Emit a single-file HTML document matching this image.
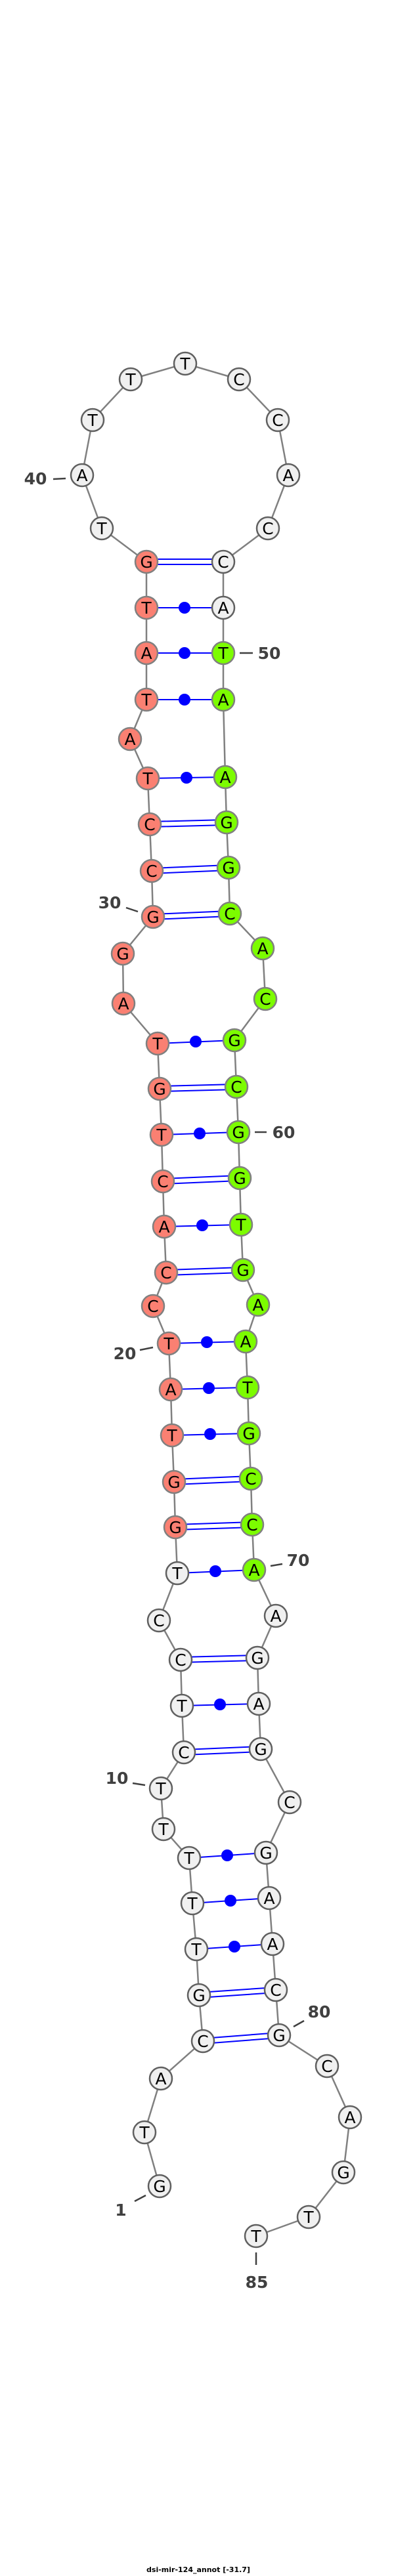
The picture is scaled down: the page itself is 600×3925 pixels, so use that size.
<!DOCTYPE html>
<html><head><meta charset="utf-8"><style>html,body{margin:0;padding:0;background:#fff}svg{display:block}</style></head><body>
<svg width="600" height="3925" viewBox="0 0 600 3925" xmlns="http://www.w3.org/2000/svg">
<polyline fill="none" stroke="#808080" stroke-width="2.5" points="243,3331 220,3249 245,3167 309,3110 303,3040 299,2970 293,2900 288,2831 249,2787 245,2725 280,2670 277,2599 275,2529 242,2469 270,2397 267,2327 265,2258 262,2187 260,2117 257,2047 233,1990 253,1939 250,1869 248,1800 246,1729 243,1659 240,1590 188,1529 187,1453 233,1397 231,1327 228,1256 225,1186 198,1126 223,1066 223,995 223,926 223,856 155,805 125,724 141,640 199,578 282,554 364,578 423,640 439,724 408,805 340,856 340,926 340,995 340,1066 343,1184 345,1253 348,1322 350,1392 400,1445 404,1522 357,1585 360,1656 363,1725 365,1795 367,1866 370,1935 393,1988 374,2044 377,2114 379,2184 382,2253 384,2323 387,2392 420,2462 392,2526 394,2596 397,2665 441,2746 405,2823 410,2892 415,2962 420,3032 425,3101 498,3148 533,3226 523,3310 470,3378 390,3407"/>
<g stroke="#0000ff" stroke-width="2" fill="none">
<path d="M309,3106 L425,3097 M309,3114 L425,3105"/>
<path d="M303,3036 L420,3028 M303,3044 L420,3036"/>
<path d="M280,2666 L397,2661 M280,2674 L397,2669"/>
<path d="M275,2525 L392,2522 M275,2533 L392,2530"/>
<path d="M267,2323 L384,2319 M267,2331 L384,2327"/>
<path d="M265,2254 L382,2249 M265,2262 L382,2257"/>
<path d="M253,1935 L370,1931 M253,1943 L370,1939"/>
<path d="M248,1796 L365,1791 M248,1804 L365,1799"/>
<path d="M243,1655 L360,1652 M243,1663 L360,1660"/>
<path d="M233,1393 L350,1388 M233,1401 L350,1396"/>
<path d="M231,1323 L348,1318 M231,1331 L348,1326"/>
<path d="M228,1252 L345,1249 M228,1260 L345,1257"/>
<path d="M223,852 L340,852 M223,860 L340,860"/>
<path d="M299,2970 L415,2962 M293,2900 L410,2892 M288,2831 L405,2823 M277,2599 L394,2596 M270,2397 L387,2392 M262,2187 L379,2184 M260,2117 L377,2114 M257,2047 L374,2044 M250,1869 L367,1866 M246,1729 L363,1725 M240,1590 L357,1585 M225,1186 L343,1184 M223,1066 L340,1066 M223,995 L340,995 M223,926 L340,926"/>
</g>
<g fill="#0000ff">
<circle cx="357" cy="2966" r="9"/><circle cx="351" cy="2896" r="9"/><circle cx="346" cy="2827" r="9"/><circle cx="335" cy="2597" r="9"/><circle cx="328" cy="2394" r="9"/><circle cx="320" cy="2185" r="9"/><circle cx="318" cy="2115" r="9"/><circle cx="315" cy="2045" r="9"/><circle cx="308" cy="1867" r="9"/><circle cx="304" cy="1727" r="9"/><circle cx="298" cy="1587" r="9"/><circle cx="284" cy="1185" r="9"/><circle cx="281" cy="1066" r="9"/><circle cx="281" cy="995" r="9"/><circle cx="281" cy="926" r="9"/>
</g>
<g stroke-width="2.5">
<g fill="#f0f0f0" stroke="#606060">
<circle cx="243" cy="3331" r="17"/><circle cx="220" cy="3249" r="17"/><circle cx="245" cy="3167" r="17"/><circle cx="309" cy="3110" r="17"/><circle cx="303" cy="3040" r="17"/><circle cx="299" cy="2970" r="17"/><circle cx="293" cy="2900" r="17"/><circle cx="288" cy="2831" r="17"/><circle cx="249" cy="2787" r="17"/><circle cx="245" cy="2725" r="17"/><circle cx="280" cy="2670" r="17"/><circle cx="277" cy="2599" r="17"/><circle cx="275" cy="2529" r="17"/><circle cx="242" cy="2469" r="17"/><circle cx="270" cy="2397" r="17"/>
<circle cx="155" cy="805" r="17"/><circle cx="125" cy="724" r="17"/><circle cx="141" cy="640" r="17"/><circle cx="199" cy="578" r="17"/><circle cx="282" cy="554" r="17"/><circle cx="364" cy="578" r="17"/><circle cx="423" cy="640" r="17"/><circle cx="439" cy="724" r="17"/><circle cx="408" cy="805" r="17"/><circle cx="340" cy="856" r="17"/><circle cx="340" cy="926" r="17"/>
<circle cx="420" cy="2462" r="17"/><circle cx="392" cy="2526" r="17"/><circle cx="394" cy="2596" r="17"/><circle cx="397" cy="2665" r="17"/><circle cx="441" cy="2746" r="17"/><circle cx="405" cy="2823" r="17"/><circle cx="410" cy="2892" r="17"/><circle cx="415" cy="2962" r="17"/><circle cx="420" cy="3032" r="17"/><circle cx="425" cy="3101" r="17"/><circle cx="498" cy="3148" r="17"/><circle cx="533" cy="3226" r="17"/><circle cx="523" cy="3310" r="17"/><circle cx="470" cy="3378" r="17"/><circle cx="390" cy="3407" r="17"/>
</g>
<g fill="#fa8072" stroke="#808080">
<circle cx="267" cy="2327" r="17"/><circle cx="265" cy="2258" r="17"/><circle cx="262" cy="2187" r="17"/><circle cx="260" cy="2117" r="17"/><circle cx="257" cy="2047" r="17"/><circle cx="233" cy="1990" r="17"/><circle cx="253" cy="1939" r="17"/><circle cx="250" cy="1869" r="17"/><circle cx="248" cy="1800" r="17"/><circle cx="246" cy="1729" r="17"/><circle cx="243" cy="1659" r="17"/><circle cx="240" cy="1590" r="17"/><circle cx="188" cy="1529" r="17"/><circle cx="187" cy="1453" r="17"/><circle cx="233" cy="1397" r="17"/><circle cx="231" cy="1327" r="17"/><circle cx="228" cy="1256" r="17"/><circle cx="225" cy="1186" r="17"/><circle cx="198" cy="1126" r="17"/><circle cx="223" cy="1066" r="17"/><circle cx="223" cy="995" r="17"/><circle cx="223" cy="926" r="17"/><circle cx="223" cy="856" r="17"/>
</g>
<g fill="#7cfc00" stroke="#808080">
<circle cx="340" cy="995" r="17"/><circle cx="340" cy="1066" r="17"/><circle cx="343" cy="1184" r="17"/><circle cx="345" cy="1253" r="17"/><circle cx="348" cy="1322" r="17"/><circle cx="350" cy="1392" r="17"/><circle cx="400" cy="1445" r="17"/><circle cx="404" cy="1522" r="17"/><circle cx="357" cy="1585" r="17"/><circle cx="360" cy="1656" r="17"/><circle cx="363" cy="1725" r="17"/><circle cx="365" cy="1795" r="17"/><circle cx="367" cy="1866" r="17"/><circle cx="370" cy="1935" r="17"/><circle cx="393" cy="1988" r="17"/><circle cx="374" cy="2044" r="17"/><circle cx="377" cy="2114" r="17"/><circle cx="379" cy="2184" r="17"/><circle cx="382" cy="2253" r="17"/><circle cx="384" cy="2323" r="17"/><circle cx="387" cy="2392" r="17"/>
</g>
</g>
<g font-family="'DejaVu Sans','Liberation Sans',sans-serif" font-size="25" text-anchor="middle" fill="#000">
<text x="243" y="3340">G</text><text x="220" y="3258">T</text><text x="245" y="3176">A</text><text x="309" y="3119">C</text><text x="303" y="3049">G</text><text x="299" y="2979">T</text><text x="293" y="2909">T</text><text x="288" y="2840">T</text><text x="249" y="2796">T</text><text x="245" y="2734">T</text><text x="280" y="2679">C</text><text x="277" y="2608">T</text><text x="275" y="2538">C</text><text x="242" y="2478">C</text><text x="270" y="2406">T</text><text x="267" y="2336">G</text><text x="265" y="2267">G</text><text x="262" y="2196">T</text><text x="260" y="2126">A</text><text x="257" y="2056">T</text><text x="233" y="1999">C</text><text x="253" y="1948">C</text><text x="250" y="1878">A</text><text x="248" y="1809">C</text><text x="246" y="1738">T</text><text x="243" y="1668">G</text><text x="240" y="1599">T</text><text x="188" y="1538">A</text><text x="187" y="1462">G</text><text x="233" y="1406">G</text><text x="231" y="1336">C</text><text x="228" y="1265">C</text><text x="225" y="1195">T</text><text x="198" y="1135">A</text><text x="223" y="1075">T</text><text x="223" y="1004">A</text><text x="223" y="935">T</text><text x="223" y="865">G</text><text x="155" y="814">T</text><text x="125" y="733">A</text><text x="141" y="649">T</text><text x="199" y="587">T</text><text x="282" y="563">T</text><text x="364" y="587">C</text><text x="423" y="649">C</text><text x="439" y="733">A</text><text x="408" y="814">C</text><text x="340" y="865">C</text><text x="340" y="935">A</text><text x="340" y="1004">T</text><text x="340" y="1075">A</text><text x="343" y="1193">A</text><text x="345" y="1262">G</text><text x="348" y="1331">G</text><text x="350" y="1401">C</text><text x="400" y="1454">A</text><text x="404" y="1531">C</text><text x="357" y="1594">G</text><text x="360" y="1665">C</text><text x="363" y="1734">G</text><text x="365" y="1804">G</text><text x="367" y="1875">T</text><text x="370" y="1944">G</text><text x="393" y="1997">A</text><text x="374" y="2053">A</text><text x="377" y="2123">T</text><text x="379" y="2193">G</text><text x="382" y="2262">C</text><text x="384" y="2332">C</text><text x="387" y="2401">A</text><text x="420" y="2471">A</text><text x="392" y="2535">G</text><text x="394" y="2605">A</text><text x="397" y="2674">G</text><text x="441" y="2755">C</text><text x="405" y="2832">G</text><text x="410" y="2901">A</text><text x="415" y="2971">A</text><text x="420" y="3041">C</text><text x="425" y="3110">G</text><text x="498" y="3157">C</text><text x="533" y="3235">A</text><text x="523" y="3319">G</text><text x="470" y="3387">T</text><text x="390" y="3416">T</text>
</g>
<g stroke="#404040" stroke-width="2.5">
<path d="M81,730 L100,729 M365,995 L385,995 M192,1383 L210,1389 M388,1725 L406,1725 M213,2057 L233,2053 M412,2386 L430,2383 M202,2717 L221,2720 M447,3088 L463,3079 M205,3354 L222,3345 M390,3432 L390,3451"/>
</g>
<g font-family="'DejaVu Sans','Liberation Sans',sans-serif" font-size="25" font-weight="bold" fill="#404040" text-anchor="middle">
<text x="54" y="738">40</text><text x="410" y="1004">50</text><text x="167" y="1384">30</text><text x="432" y="1734">60</text><text x="190" y="2071">20</text><text x="454" y="2386">70</text><text x="178" y="2718">10</text><text x="486" y="3074">80</text><text x="184" y="3376">1</text><text x="391" y="3486">85</text>
</g>
<text x="302" y="3919" font-family="'DejaVu Sans','Liberation Sans',sans-serif" font-size="11" font-weight="bold" text-anchor="middle" fill="#000">dsi-mir-124_annot [-31.7]</text>
</svg>
</body></html>
